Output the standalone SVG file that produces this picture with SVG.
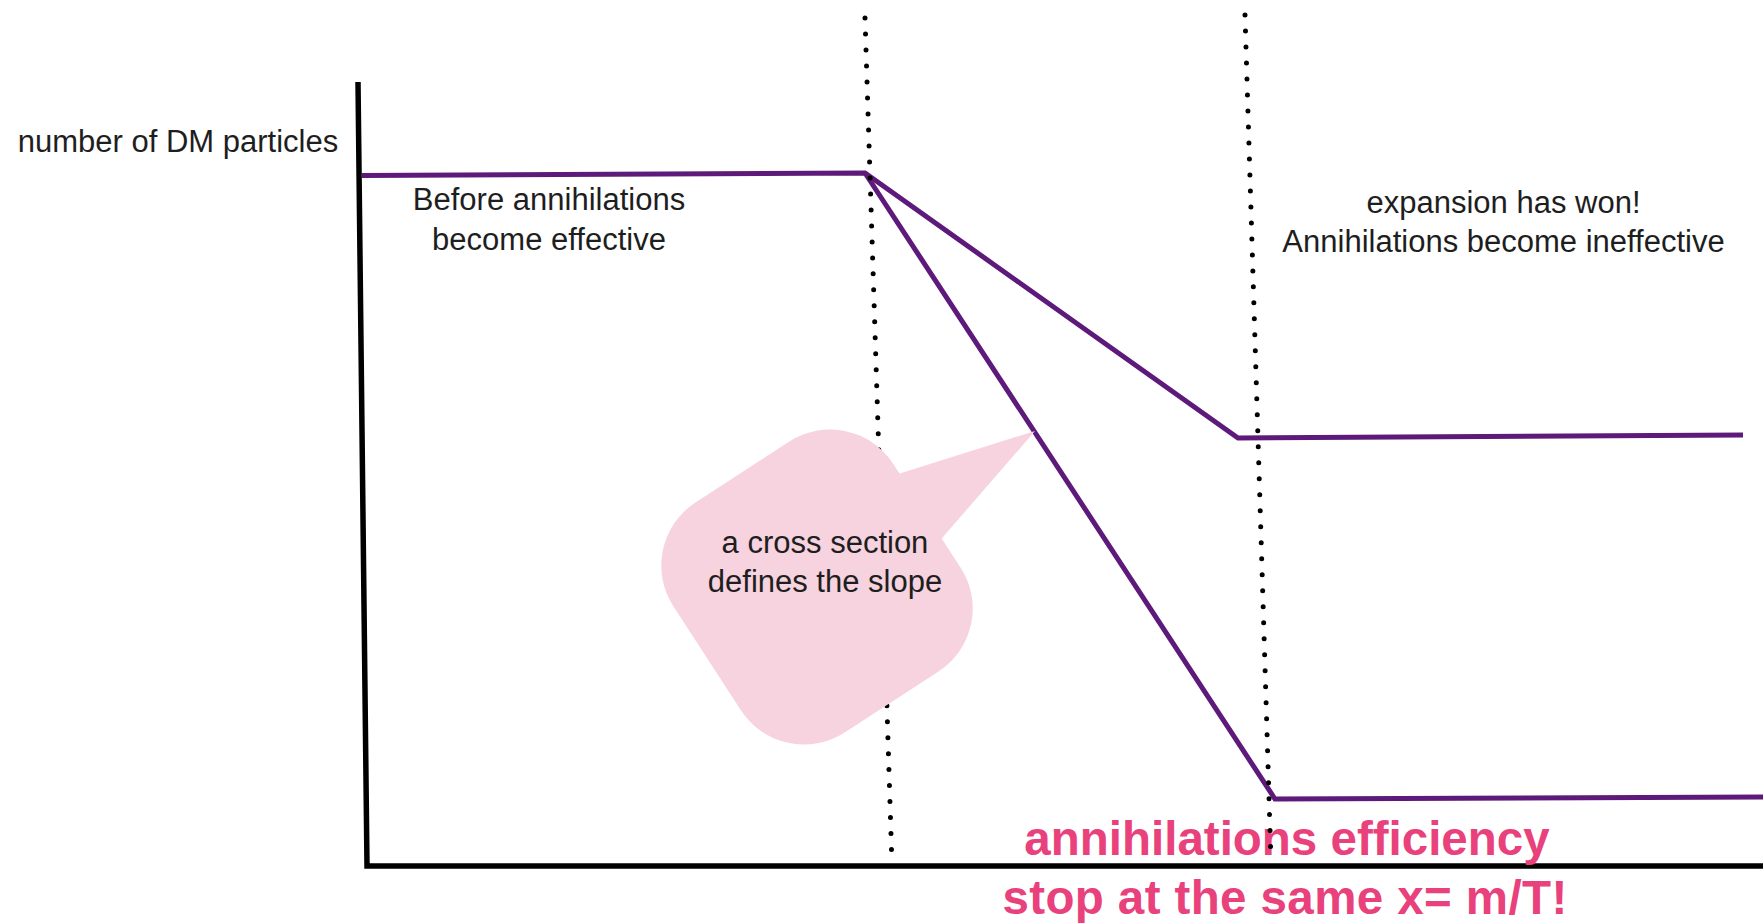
<svg xmlns="http://www.w3.org/2000/svg" width="1763" height="923" viewBox="0 0 1763 923">
  <style>
    .lbl { font-family: "Liberation Sans", Arial, sans-serif; font-size: 31px; fill: #1e1e1e; text-anchor: middle; }
    .big { font-family: "Liberation Sans", Arial, sans-serif; font-size: 47.5px; font-weight: bold; fill: #e8417b; text-anchor: middle; }
    .axis { fill: none; stroke: #000; stroke-width: 5.5; stroke-linejoin: miter; stroke-linecap: butt; }
    .curve { fill: none; stroke: #5e1a7a; stroke-width: 5; stroke-linejoin: miter; stroke-linecap: butt; }
    .dots { fill: none; stroke: #000; stroke-width: 5; stroke-linecap: round; stroke-dasharray: 0 16; }
    .bubble { fill: #f7d2df; }
  </style>
  <rect x="0" y="0" width="1763" height="923" fill="#ffffff"/>

  <g id="axes">
    <path class="axis" d="M358,82 L367,866 L1763,866"/>
  </g>

  <g id="connectors">
    <path class="curve" d="M362,175.5 L865,173 L1238,438 L1743,435"/>
    <path class="curve" d="M865,173 L1275,799 L1763,797"/>
  </g>

  <g id="conclusion">
    <text class="big" x="1287" y="855">annihilations efficiency</text>
    <text class="big" x="1285" y="914" letter-spacing="0.4">stop at the same x= m/T!</text>
  </g>

  <g id="dividers">
    <path class="dots" d="M865,18 L891.5,850"/>
    <path class="dots" d="M1245,15 L1271,862"/>
  </g>

  <g id="callout">
    <g transform="translate(817,587) rotate(-33)">
      <rect class="bubble" x="-131" y="-137" width="262" height="274" rx="75" ry="75"/>
    </g>
    <polygon class="bubble" points="1035,431 860,486 910,575"/>
    <text class="lbl" x="825" y="553">a cross section</text>
    <text class="lbl" x="825" y="592">defines the slope</text>
  </g>

  <g id="y-label">
    <text class="lbl" x="178" y="152">number of DM particles</text>
  </g>

  <g id="before-label">
    <text class="lbl" x="549" y="210">Before annihilations</text>
    <text class="lbl" x="549" y="250">become effective</text>
  </g>

  <g id="after-label">
    <text class="lbl" x="1503.5" y="213">expansion has won!</text>
    <text class="lbl" x="1503.5" y="252">Annihilations become ineffective</text>
  </g>
</svg>
